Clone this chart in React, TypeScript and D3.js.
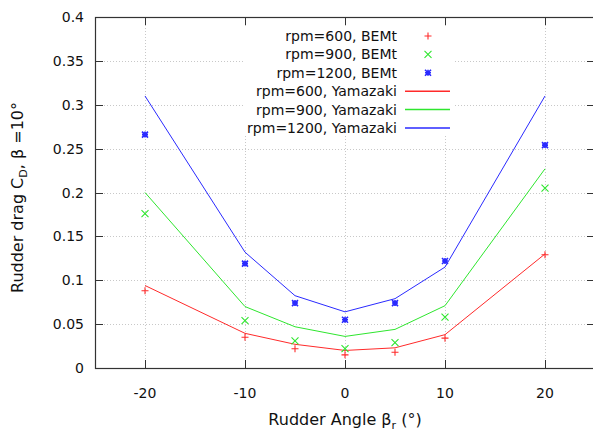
import React, { useEffect, useRef } from "react";
import * as d3 from "d3";

const width = 593;
const height = 435;
const plot = { left: 95, right: 595, top: 17, bottom: 368 };

const angles = [-20, -10, -5, 0, 5, 10, 20];
const bem600 = [0.088, 0.035, 0.022, 0.015, 0.018, 0.034, 0.129];
const bem900 = [0.176, 0.054, 0.031, 0.022, 0.029, 0.058, 0.205];
const bem1200 = [0.266, 0.119, 0.074, 0.055, 0.074, 0.122, 0.254];
const yam600 = [0.094, 0.0395, 0.027, 0.02, 0.023, 0.038, 0.13];
const yam900 = [0.2, 0.07, 0.047, 0.036, 0.044, 0.071, 0.227];
const yam1200 = [0.31, 0.132, 0.0824, 0.064, 0.079, 0.115, 0.31];

const xTicks = [-20, -10, 0, 10, 20];
const yTicks = [0, 0.05, 0.1, 0.15, 0.2, 0.25, 0.3, 0.35, 0.4];

const colors = { red: "#ff2a2a", green: "#2ee62e", blue: "#2a2aff" };

const points = [
  { label: "rpm=600, BEMt", values: bem600, color: colors.red, shape: "plus" },
  { label: "rpm=900, BEMt", values: bem900, color: colors.green, shape: "cross" },
  { label: "rpm=1200, BEMt", values: bem1200, color: colors.blue, shape: "star" },
];
const lines = [
  { label: "rpm=600, Yamazaki", values: yam600, color: colors.red },
  { label: "rpm=900, Yamazaki", values: yam900, color: colors.green },
  { label: "rpm=1200, Yamazaki", values: yam1200, color: colors.blue },
];

const font = "'DejaVu Sans', sans-serif";

function markerPath(shape: string, s: number) {
  const p = `M${-s},0L${s},0M0,${-s}L0,${s}`;
  const x = `M${-s},${-s}L${s},${s}M${-s},${s}L${s},${-s}`;
  if (shape === "plus") return p;
  if (shape === "cross") return x;
  return p + x;
}

const App = () => {
  const ref = useRef<SVGSVGElement>(null);

  useEffect(() => {
    const svg = d3.select(ref.current);
    svg.selectAll("*").remove();

    const x = d3.scaleLinear([-25, 25], [plot.left, plot.right]);
    const y = d3.scaleLinear([0, 0.4], [plot.bottom, plot.top]);
    const x0 = plot.left, x1 = plot.right;
    const y0 = plot.bottom, y1 = plot.top;

    svg.append("rect").attr("width", width).attr("height", height).attr("fill", "white");

    // grid
    const grid = svg.append("g").attr("stroke", "#c8c8c8").attr("stroke-dasharray", "1,2").attr("stroke-width", 1);
    grid.selectAll("line.h").data(yTicks.slice(1, -1)).join("line")
      .attr("x1", x0).attr("x2", x1).attr("y1", d => Math.round(y(d)) + 0.5).attr("y2", d => Math.round(y(d)) + 0.5);
    grid.selectAll("line.v").data(xTicks).join("line")
      .attr("y1", y0).attr("y2", y1).attr("x1", d => Math.round(x(d)) + 0.5).attr("x2", d => Math.round(x(d)) + 0.5);

    // ticks (inward, mirrored)
    const ticks = svg.append("g").attr("stroke", "#333").attr("stroke-width", 1);
    yTicks.forEach(t => {
      const yy = Math.round(y(t)) + 0.5;
      ticks.append("line").attr("x1", x0).attr("x2", x0 + 8).attr("y1", yy).attr("y2", yy);
      ticks.append("line").attr("x1", x1).attr("x2", x1 - 8).attr("y1", yy).attr("y2", yy);
    });
    xTicks.forEach(t => {
      const xx = Math.round(x(t)) + 0.5;
      ticks.append("line").attr("y1", y0).attr("y2", y0 - 8).attr("x1", xx).attr("x2", xx);
      ticks.append("line").attr("y1", y1).attr("y2", y1 + 8).attr("x1", xx).attr("x2", xx);
    });

    // tick labels
    svg.append("g").selectAll("text").data(yTicks).join("text")
      .attr("x", x0 - 11).attr("y", d => y(d) + 5)
      .attr("text-anchor", "end").attr("font-family", font).attr("font-size", 14).attr("fill", "#111")
      .text(d => String(d));
    svg.append("g").selectAll("text").data(xTicks).join("text")
      .attr("x", d => x(d)).attr("y", y0 + 30)
      .attr("text-anchor", "middle").attr("font-family", font).attr("font-size", 14).attr("fill", "#111")
      .text(d => String(d));

    // lines
    const line = d3.line<number>().x((_, i) => x(angles[i])).y(d => y(d));
    lines.forEach(l => {
      svg.append("path").datum(l.values).attr("fill", "none").attr("stroke", l.color)
        .attr("stroke-width", 1).attr("d", line);
    });

    // points
    points.forEach(p => {
      svg.append("g").selectAll("path").data(p.values).join("path")
        .attr("transform", (d, i) => `translate(${x(angles[i])},${y(d)})`)
        .attr("d", markerPath(p.shape, p.shape === "star" ? 3 : 3.5))
        .attr("stroke", p.color).attr("stroke-width", p.shape === "star" ? 1.6 : 1.1).attr("fill", "none");
    });

    // legend
    const legend = svg.append("g");
    legend.append("rect").attr("x", 243).attr("y", 26).attr("width", 212).attr("height", 110).attr("fill", "white");
    const rowY = (i: number) => 36 + i * 18.4;
    const textX = 397;
    points.forEach((p, i) => {
      legend.append("text").attr("x", textX).attr("y", rowY(i) + 5).attr("text-anchor", "end")
        .attr("font-family", font).attr("font-size", 14).attr("fill", "#111").text(p.label);
      legend.append("path").attr("transform", `translate(428,${rowY(i)})`)
        .attr("d", markerPath(p.shape, p.shape === "star" ? 3 : 3.5))
        .attr("stroke", p.color).attr("stroke-width", p.shape === "star" ? 1.6 : 1.1).attr("fill", "none");
    });
    lines.forEach((l, j) => {
      const i = j + 3;
      legend.append("text").attr("x", textX).attr("y", rowY(i) + 5).attr("text-anchor", "end")
        .attr("font-family", font).attr("font-size", 14).attr("fill", "#111").text(l.label);
      legend.append("line").attr("x1", 405).attr("x2", 450).attr("y1", rowY(i)).attr("y2", rowY(i))
        .attr("stroke", l.color).attr("stroke-width", 1.5);
    });

    // frame
    svg.append("rect").attr("x", x0 + 0.5).attr("y", y1 + 0.5).attr("width", x1 - x0).attr("height", y0 - y1)
      .attr("fill", "none").attr("stroke", "#333").attr("stroke-width", 1.2);

    // axis titles
    const xt = svg.append("text").attr("x", (x0 + x1) / 2).attr("y", 425).attr("text-anchor", "middle")
      .attr("font-family", font).attr("font-size", 16).attr("fill", "#111");
    xt.append("tspan").text("Rudder Angle β");
    xt.append("tspan").attr("font-size", 11).attr("dy", 4).text("r");
    xt.append("tspan").attr("dy", -4).text(" (°)");

    const yt = svg.append("text").attr("transform", `translate(23,${(y0 + y1) / 2 + 5}) rotate(-90)`)
      .attr("text-anchor", "middle").attr("font-family", font).attr("font-size", 16).attr("fill", "#111");
    yt.append("tspan").text("Rudder drag C");
    yt.append("tspan").attr("font-size", 11).attr("dy", 4).text("D");
    yt.append("tspan").attr("dy", -4).text(", β =10°");
  }, []);

  return (
    <div style={{ position: "absolute", left: 0, top: 0, width, height, overflow: "hidden" }}>
      <svg ref={ref} width={width} height={height} style={{ display: "block" }} />
    </div>
  );
};

export default App;
